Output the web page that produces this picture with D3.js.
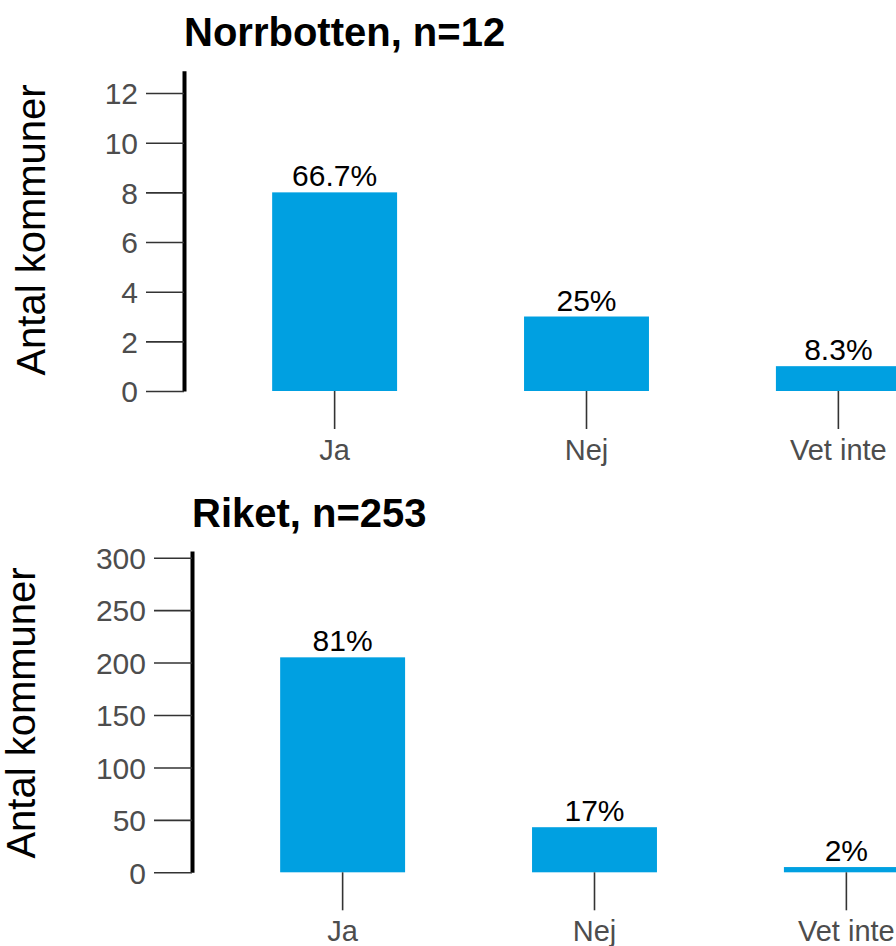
<!doctype html>
<html>
<head>
    <meta charset="UTF-8">
    <title>Antal kommuner</title>
    <script src="https://d3js.org/d3.v7.min.js"></script>
    <style>
        body { margin: 0; background: #fff; }
        text { font-family: "Liberation Sans", Arial, sans-serif; }
    </style>
</head>
<body>
<svg id="chart" width="896" height="946"></svg>
<script>
    var categories = ["Ja", "Nej", "Vet inte"];

    var norrbottenCounts = [8, 3, 1];
    var norrbottenPct = ["66.7%", "25%", "8.3%"];
    var norrbottenTicks = [0, 2, 4, 6, 8, 10, 12];

    var riketCounts = [205, 43, 5];
    var riketPct = ["81%", "17%", "2%"];
    var riketTicks = [0, 50, 100, 150, 200, 250, 300];

    var svg = d3.select("#chart");

    // one panel: title, y axis with thick line, bars, value labels, x ticks
    function panel(opt) {
        var g = svg.append("g");

        var y = d3.scaleLinear()
            .domain([0, opt.yMax])
            .range([opt.y0, opt.yTop]);

        var x = d3.scaleBand()
            .domain(categories)
            .range([opt.x0, opt.x0 + 805])
            .paddingInner(0.504)
            .paddingOuter(0.35);

        // title
        g.append("text")
            .attr("x", opt.x0)
            .attr("y", opt.titleY)
            .attr("font-size", 40)
            .attr("font-weight", "bold")
            .attr("fill", "#000")
            .text(opt.title);

        // y axis title
        g.append("text")
            .attr("transform", "translate(" + opt.labX + "," + opt.labY + ") rotate(-90)")
            .attr("text-anchor", "middle")
            .attr("font-size", 40)
            .attr("fill", "#000")
            .text("Antal kommuner");

        // bars
        g.selectAll("rect")
            .data(opt.counts)
            .enter().append("rect")
            .attr("x", function(d, i) { return x(categories[i]); })
            .attr("y", function(d) { return y(d); })
            .attr("width", x.bandwidth())
            .attr("height", function(d) { return opt.y0 - y(d); })
            .attr("fill", "#00A0E1");

        // value labels
        g.selectAll("text.val")
            .data(opt.counts)
            .enter().append("text")
            .attr("class", "val")
            .attr("x", function(d, i) { return x(categories[i]) + x.bandwidth() / 2; })
            .attr("y", function(d) { return y(d) - 6; })
            .attr("text-anchor", "middle")
            .attr("font-size", 30)
            .attr("fill", "#000")
            .text(function(d, i) { return opt.pct[i]; });

        // y axis
        var ya = g.append("g")
            .attr("transform", "translate(" + opt.x0 + ",0)")
            .call(d3.axisLeft(y).tickValues(opt.ticks).tickSize(38).tickSizeOuter(0).tickPadding(8));
        ya.select(".domain").attr("stroke", "#000").attr("stroke-width", 4);
        ya.selectAll(".tick line").attr("stroke", "#333").attr("stroke-width", 1.6);
        ya.selectAll(".tick text")
            .attr("font-size", 30)
            .attr("font-family", "Liberation Sans, Arial, sans-serif")
            .attr("fill", "#4D4D4D")
            .attr("dy", "0.36em");

        // x axis (ticks and labels only)
        var xa = g.append("g")
            .attr("transform", "translate(0," + opt.y0 + ")")
            .call(d3.axisBottom(x).tickSize(38).tickSizeOuter(0).tickPadding(10));
        xa.select(".domain").remove();
        xa.selectAll(".tick line").attr("stroke", "#333").attr("stroke-width", 1.6);
        xa.selectAll(".tick text")
            .attr("font-size", 29)
            .attr("font-family", "Liberation Sans, Arial, sans-serif")
            .attr("fill", "#4D4D4D");
    }

    panel({
        title: "Norrbotten, n=12",
        counts: norrbottenCounts,
        pct: norrbottenPct,
        ticks: norrbottenTicks,
        yMax: 12.9,
        x0: 184, y0: 391, yTop: 70.7,
        titleY: 46, labX: 45, labY: 230
    });

    panel({
        title: "Riket, n=253",
        counts: riketCounts,
        pct: riketPct,
        ticks: riketTicks,
        yMax: 306.4,
        x0: 192, y0: 872.3, yTop: 551,
        titleY: 527, labX: 35, labY: 713
    });
</script>
</body>
</html>
